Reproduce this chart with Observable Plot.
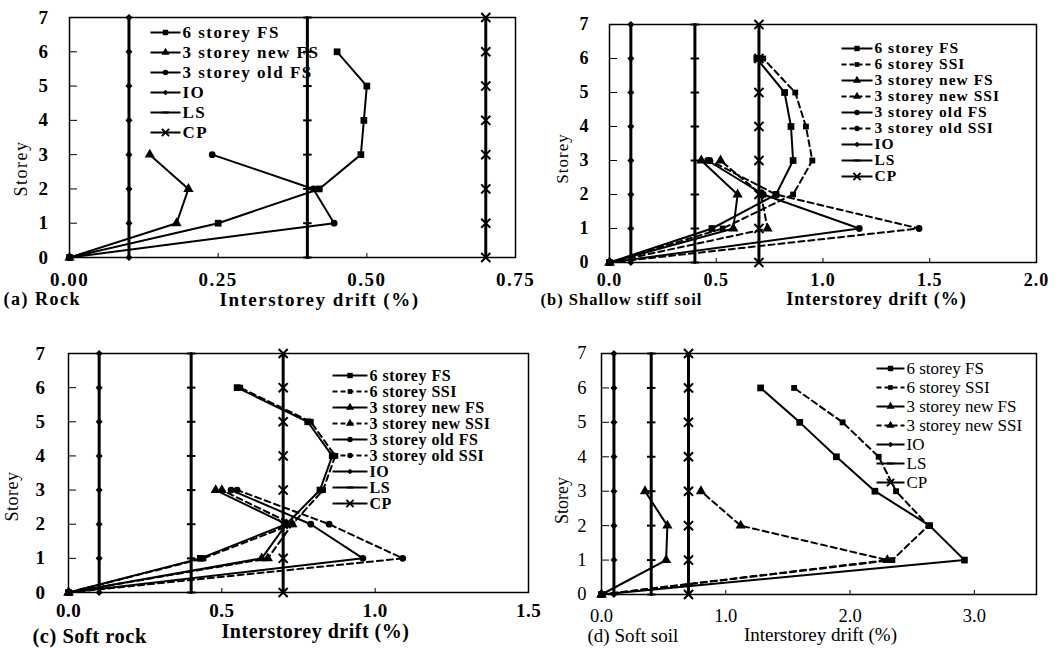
<!DOCTYPE html>
<html><head><meta charset="utf-8">
<script src="https://cdn.jsdelivr.net/npm/d3@7"></script>
<script src="https://cdn.jsdelivr.net/npm/@observablehq/plot@0.6"></script>
<style>
body{margin:0;background:#fff;}
#root{position:relative;width:1058px;height:649px;overflow:hidden;background:#fff;}
.p{position:absolute;}
.p svg{overflow:visible;background:none;max-width:none !important;}
</style></head><body><div id="root"></div>
<script>
// ---------- data ----------
const storeys6 = [0, 1, 2, 3, 4, 5, 6];
const storeys3 = [0, 1, 2, 3];
const storeysLimit = [0, 1, 2, 3, 4, 5, 6, 7];
const limitIO = 0.1, limitLS = 0.4, limitCP = 0.7;

// (a) Rock
const rock6FS    = [0, 0.25, 0.42, 0.49, 0.495, 0.50, 0.45];
const rock3newFS = [0, 0.18, 0.20, 0.135];
const rock3oldFS = [0, 0.445, 0.41, 0.24];
// (b) Shallow stiff soil
const stiff6FS     = [0, 0.48, 0.78, 0.86, 0.85, 0.82, 0.69];
const stiff6SSI    = [0, 0.53, 0.86, 0.95, 0.92, 0.87, 0.72];
const stiff3newFS  = [0, 0.58, 0.60, 0.43];
const stiff3newSSI = [0, 0.74, 0.71, 0.52];
const stiff3oldFS  = [0, 1.17, 0.72, 0.46];
const stiff3oldSSI = [0, 1.45, 0.78, 0.47];
// (c) Soft rock
const srock6FS     = [0, 0.43, 0.71, 0.82, 0.86, 0.78, 0.55];
const srock6SSI    = [0, 0.44, 0.73, 0.83, 0.87, 0.79, 0.56];
const srock3newFS  = [0, 0.63, 0.71, 0.48];
const srock3newSSI = [0, 0.65, 0.73, 0.50];
const srock3oldFS  = [0, 0.96, 0.79, 0.53];
const srock3oldSSI = [0, 1.09, 0.85, 0.55];
// (d) Soft soil
const soil6FS     = [0, 2.92, 2.64, 2.20, 1.89, 1.595, 1.28];
const soil6SSI    = [0, 2.34, 2.63, 2.37, 2.23, 1.94, 1.55];
const soil3newFS  = [0, 0.52, 0.53, 0.35];
const soil3newSSI = [0, 2.30, 1.12, 0.80];

const ticksA = [0, 0.25, 0.5, 0.75];
const ticksB = [0, 0.5, 1, 1.5, 2];
const ticksC = [0, 0.5, 1, 1.5];
const ticksD = [0, 1, 2, 3];

const xTitle = "Interstorey drift (%)";
const yTitle = "Storey";
const captions = ["(a) Rock", "(b) Shallow stiff soil", "(c) Soft rock", "(d) Soft soil"];

// ---------- styles ----------
const dashSymbol = {draw(ctx, size) { const w = Math.sqrt(size) * 0.6; ctx.moveTo(-w, 0); ctx.lineTo(w, 0); }};
const look = {
  "6 storey FS":      {symbol: "square",   dashed: false, r: 3.8},
  "6 storey SSI":     {symbol: "square",   dashed: true,  r: 3.3},
  "3 storey new FS":  {symbol: "triangle", dashed: false, r: 3.8},
  "3 storey new SSI": {symbol: "triangle", dashed: true,  r: 3.8},
  "3 storey old FS":  {symbol: "circle",   dashed: false, r: 3.4},
  "3 storey old SSI": {symbol: "circle",   dashed: true,  r: 3.4},
  "IO": {symbol: "diamond2", ref: true, r: 3.2},
  "LS": {symbol: dashSymbol, ref: true, r: 4, strokeSym: true},
  "CP": {symbol: "times", ref: true, r: 4.2, strokeSym: true}
};

function rowsOf(name, storeys, values) {
  return values.map((v, i) => ({name, storey: storeys[i], drift: v}));
}
function dotOpts(L, scale = 1) {
  return L.strokeSym
    ? {symbol: L.symbol, r: L.r * scale, fill: "none", stroke: "black", strokeWidth: 2}
    : {symbol: L.symbol, r: L.r * scale, fill: "black", stroke: "none"};
}

const refSeries = [["IO", storeysLimit, storeysLimit.map(() => limitIO)],
                   ["LS", storeysLimit, storeysLimit.map(() => limitLS)],
                   ["CP", storeysLimit, storeysLimit.map(() => limitCP)]];

const panels = [
  {left: 0, top: 0, width: 529, height: 310, mL: 69, mR: 14, mT: 17, mB: 53,
   xmax: 0.75, xticks: ticksA, xfmt: ".2f", weight: "bold", ls: 1.5, tickFont: 19, xPad: 14.5, yPad: 20,
   series: [["6 storey FS", storeys6, rock6FS], ["3 storey new FS", storeys3, rock3newFS], ["3 storey old FS", storeys3, rock3oldFS]],
   legend: {x0: 150, y0: 31, len: 30, sp: 20.2, font: 17},
   caption: {text: captions[0], x: 3, y: 299, size: 18}, title: {x: 319, y: 299, size: 19}, ylab: {x: 21, y: 168, size: 18}},
  {left: 529, top: 0, width: 529, height: 310, mL: 80, mR: 22, mT: 24, mB: 48,
   xmax: 2, xticks: ticksB, xfmt: ".1f", weight: "bold", ls: 1, tickFont: 18, xPad: 11, yPad: 20,
   series: [["6 storey FS", storeys6, stiff6FS], ["6 storey SSI", storeys6, stiff6SSI],
            ["3 storey new FS", storeys3, stiff3newFS], ["3 storey new SSI", storeys3, stiff3newSSI],
            ["3 storey old FS", storeys3, stiff3oldFS], ["3 storey old SSI", storeys3, stiff3oldSSI]],
   legend: {x0: 841, y0: 48, len: 31, sp: 16.1, font: 15.5},
   caption: {text: captions[1], x: 540, y: 299, size: 16.5}, title: {x: 876, y: 299, size: 18}, ylab: {x: 562, y: 158, size: 17}},
  {left: 0, top: 320, width: 529, height: 329, mL: 68, mR: 1, mT: 33, mB: 57,
   xmax: 1.5, xticks: ticksC, xfmt: ".1f", weight: "bold", ls: 0.5, tickFont: 19, xPad: 10.5, yPad: 23,
   series: [["6 storey FS", storeys6, srock6FS], ["6 storey SSI", storeys6, srock6SSI],
            ["3 storey new FS", storeys3, srock3newFS], ["3 storey new SSI", storeys3, srock3newSSI],
            ["3 storey old FS", storeys3, srock3oldFS], ["3 storey old SSI", storeys3, srock3oldSSI]],
   legend: {x0: 332, y0: 372, len: 35, sp: 16.8, font: 16},
   caption: {text: captions[2], x: 32, y: 636, size: 20.5}, title: {x: 315, y: 631, size: 20}, ylab: {x: 12, y: 496, size: 18}},
  {left: 529, top: 320, width: 529, height: 329, mL: 72, mR: 22, mT: 33, mB: 55,
   xmax: 3.5, xticks: ticksD, xfmt: ".1f", weight: "normal", ls: 0, tickFont: 18.5, xPad: 14, yPad: 15,
   series: [["6 storey FS", storeys6, soil6FS], ["6 storey SSI", storeys6, soil6SSI],
            ["3 storey new FS", storeys3, soil3newFS], ["3 storey new SSI", storeys3, soil3newSSI]],
   legend: {x0: 876, y0: 367, len: 28, sp: 19.3, font: 17},
   caption: {text: captions[3], x: 587, y: 635, size: 19}, title: {x: 820, y: 634, size: 19}, ylab: {x: 562, y: 500, size: 18}}
];

const root = document.getElementById("root");
const font = "Liberation Serif, Times New Roman, serif";

for (const P of panels) {
  const all = [...P.series, ...refSeries];
  const marks = [Plot.frame({stroke: "black", strokeWidth: 1.5})];
  for (const [name, st, vals] of all) {
    const L = look[name];
    const rows = rowsOf(name, st, vals);
    marks.push(Plot.line(rows, {x: "drift", y: "storey", stroke: "black",
      strokeWidth: L.ref ? 3 : 2, strokeDasharray: L.dashed ? "6,4" : null}));
    marks.push(Plot.dot(rows, {x: "drift", y: "storey", ...dotOpts(L)}));
  }
  const tf = {fontFamily: font, fontWeight: P.weight, fontSize: P.tickFont};
  marks.push(Plot.axisX({ticks: P.xticks, tickSize: -4, tickFormat: () => "", label: null}));
  marks.push(Plot.axisX({ticks: P.xticks, tickSize: 0, tickPadding: P.xPad, tickFormat: d3.format(P.xfmt), label: null, ...tf}));
  marks.push(Plot.axisY({ticks: storeysLimit, tickSize: -8, tickFormat: () => "", label: null}));
  marks.push(Plot.axisY({ticks: storeysLimit, tickSize: 0, tickPadding: P.yPad, tickFormat: d3.format("d"), label: null, ...tf}));
  const fx = P.left + P.mL, fy = P.top + P.mT;
  marks.push(Plot.text([P.caption.text], {text: d => d, frameAnchor: "top-left", textAnchor: "start", lineAnchor: "middle",
    dx: P.caption.x - fx, dy: P.caption.y - fy, fontSize: P.caption.size, fontWeight: P.weight, fontFamily: font}));
  marks.push(Plot.text([xTitle], {text: d => d, frameAnchor: "top-left", textAnchor: "middle", lineAnchor: "middle",
    dx: P.title.x - fx, dy: P.title.y - fy, fontSize: P.title.size, fontWeight: P.weight, fontFamily: font}));
  marks.push(Plot.text([yTitle], {text: d => d, frameAnchor: "top-left", textAnchor: "middle", lineAnchor: "middle", rotate: -90,
    dx: P.ylab.x - fx, dy: P.ylab.y - fy, fontSize: P.ylab.size, fontWeight: "normal", fontFamily: font}));

  const chart = Plot.plot({
    width: P.width, height: P.height,
    marginLeft: P.mL, marginRight: P.mR, marginTop: P.mT, marginBottom: P.mB,
    x: {domain: [0, P.xmax]}, y: {domain: [0, 7]},
    style: {fontFamily: font, background: "none", overflow: "visible", letterSpacing: P.ls + "px", color: "black", maxWidth: "none"},
    marks
  });
  const div = document.createElement("div");
  div.className = "p";
  div.style.left = P.left + "px"; div.style.top = P.top + "px";
  div.style.width = P.width + "px"; div.style.height = P.height + "px";
  div.appendChild(chart);
  root.appendChild(div);

  // legend
  const names = [...P.series.map(s => s[0]), "IO", "LS", "CP"];
  const G = P.legend, n = names.length;
  const lmarks = [];
  for (const name of names) {
    const L = look[name];
    const e = [{name}];
    lmarks.push(Plot.link(e, {x1: () => 0, x2: () => 1, y1: "name", y2: "name", stroke: "black",
      strokeWidth: 2, strokeDasharray: L.dashed ? "5,3" : null}));
    lmarks.push(Plot.dot(e, {x: () => 0.5, y: "name", ...dotOpts(L, 0.8)}));
  }
  lmarks.push(Plot.text(names.map(name => ({name})), {x: () => 1, y: "name", text: "name", textAnchor: "start", lineAnchor: "middle",
    dx: 2, fontSize: G.font, fontWeight: P.weight, fontFamily: font}));
  const LW = G.len + 200, LH = (n - 1) * G.sp + 24;
  const leg = Plot.plot({
    width: LW, height: LH, margin: 0,
    x: {domain: [0, 1], range: [6, 6 + G.len], axis: null},
    y: {type: "point", domain: names, range: [12, 12 + (n - 1) * G.sp], padding: 0, axis: null},
    style: {fontFamily: font, background: "none", overflow: "visible", letterSpacing: P.ls + "px", color: "black", maxWidth: "none"},
    marks: lmarks
  });
  const ldiv = document.createElement("div");
  ldiv.className = "p";
  ldiv.style.left = (G.x0 - 6) + "px"; ldiv.style.top = (G.y0 - 12) + "px";
  ldiv.style.width = LW + "px"; ldiv.style.height = LH + "px";
  ldiv.appendChild(leg);
  root.appendChild(ldiv);
}
</script></body></html>
